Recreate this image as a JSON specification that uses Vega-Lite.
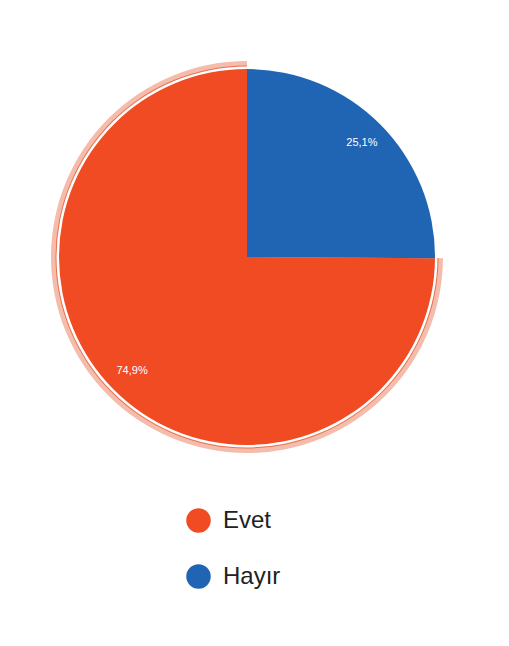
{
  "$schema": "https://vega.github.io/schema/vega-lite/v6.json",
  "width": 494,
  "height": 514,
  "autosize": "none",
  "padding": {"left": 0, "top": 0, "right": 15, "bottom": 132},
  "background": "white",
  "config": {"view": {"stroke": null}},
  "data": {"values": [
    {"cevap": "Evet", "yuzde": 74.9, "etiket": "74,9%"},
    {"cevap": "Hayır", "yuzde": 25.1, "etiket": "25,1%"}
  ]},
  "encoding": {
    "theta": {"field": "yuzde", "type": "quantitative", "stack": true},
    "order": {"field": "cevap", "sort": "descending"}
  },
  "layer": [
    {
      "mark": {"type": "arc", "outerRadius": 196},
      "encoding": {
        "fill": {"condition": {"test": "datum.cevap === 'Evet'", "value": "#f5bcac"}, "value": "transparent"}
      }
    },
    {
      "mark": {"type": "arc", "outerRadius": 191.5},
      "encoding": {
        "fill": {"condition": {"test": "datum.cevap === 'Evet'", "value": "#e8704f"}, "value": "transparent"}
      }
    },
    {
      "mark": {"type": "arc", "outerRadius": 190.5},
      "encoding": {
        "fill": {"condition": {"test": "datum.cevap === 'Evet'", "value": "#ffffff"}, "value": "transparent"}
      }
    },
    {
      "mark": {"type": "arc", "outerRadius": 188},
      "encoding": {
        "color": {
          "field": "cevap", "type": "nominal",
          "scale": {"domain": ["Evet", "Hayır"], "range": ["#f04b23", "#2064b4"]},
          "legend": {
            "title": null,
            "orient": "none",
            "legendX": 186,
            "legendY": 508,
            "padding": 0,
            "symbolType": "circle",
            "symbolSize": 600,
            "symbolStrokeWidth": 0,
            "symbolOpacity": 1,
            "labelFont": "Liberation Sans",
            "labelFontSize": 24,
            "labelColor": "#222222",
            "labelOffset": 12,
            "rowPadding": 31
          }
        }
      }
    },
    {
      "mark": {"type": "text", "radius": 162, "font": "Liberation Sans", "fontSize": 11, "color": "white"},
      "encoding": {
        "text": {"field": "etiket", "type": "nominal"}
      }
    }
  ]
}
